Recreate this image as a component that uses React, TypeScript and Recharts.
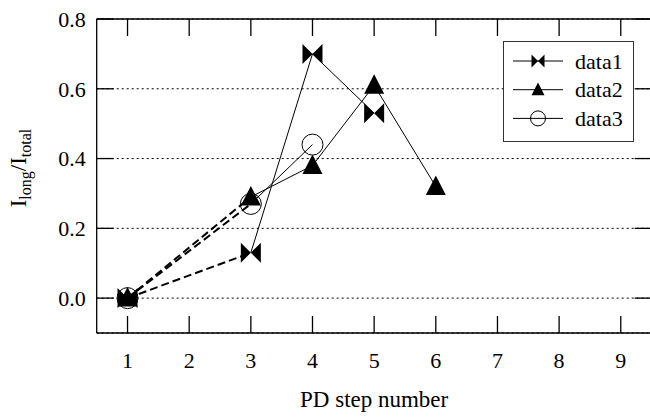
import React from "react";
import { LineChart, Line, XAxis, YAxis, CartesianGrid, Legend } from "recharts";

const FONT = '"Liberation Serif", "Times New Roman", serif';

// PD step numbers that have measurements
const STEPS = [1, 3, 4, 5, 6];
const DATA1 = [0, 0.13, 0.7, 0.53, null];
const DATA2 = [0, 0.29, 0.38, 0.61, 0.32];
const DATA3 = [0, 0.27, 0.44, null, null];
// segments up to this step are drawn dashed, after it solid
const DASH_END = 3;

const X_TICKS = [1, 2, 3, 4, 5, 6, 7, 8, 9];
const Y_TICKS = [0, 0.2, 0.4, 0.6, 0.8];

const SERIES = [
  { key: "data1", values: DATA1, shape: "bowtie" },
  { key: "data2", values: DATA2, shape: "triangle" },
  { key: "data3", values: DATA3, shape: "circle" },
];

const rows = STEPS.map((x, i) => {
  const row: Record<string, number> = { x };
  SERIES.forEach((s) => {
    const v = s.values[i];
    if (v == null) return;
    row[s.key] = v;
    if (x <= DASH_END) row[s.key + "_dash"] = v;
    if (x >= DASH_END) row[s.key + "_solid"] = v;
  });
  return row;
});

function markerPath(shape: string, cx: number, cy: number, r: number) {
  if (shape === "bowtie") {
    return `M${cx - r},${cy - r} L${cx},${cy} L${cx - r},${cy + r} Z M${cx + r},${cy - r} L${cx},${cy} L${cx + r},${cy + r} Z`;
  }
  return `M${cx},${cy - r * 1.1} L${cx + r},${cy + r * 0.85} L${cx - r},${cy + r * 0.85} Z`;
}

function Marker({ shape, cx, cy, r }: { shape: string; cx: number; cy: number; r: number }) {
  if (shape === "circle") {
    return <circle cx={cx} cy={cy} r={r} fill="none" stroke="#000" strokeWidth={1} />;
  }
  return <path d={markerPath(shape, cx, cy, r)} fill="#000" stroke="none" />;
}

const makeDot = (shape: string) => (props: any) => {
  const { cx, cy, value, index } = props;
  if (value == null || cx == null || cy == null) return <g key={index} />;
  return (
    <g key={index}>
      <Marker shape={shape} cx={cx} cy={cy} r={shape === "circle" ? 10.5 : 10} />
    </g>
  );
};

function LegendBox() {
  return (
    <svg width={131} height={101} style={{ display: "block", background: "#fff" }}>
      <rect x={0.5} y={0.5} width={130} height={100} fill="#fff" stroke="#333" />
      {SERIES.map((s, i) => {
        const cy = 20 + i * 28.7;
        return (
          <g key={s.key}>
            <line x1={10} x2={60} y1={cy} y2={cy} stroke="#000" strokeWidth={1} />
            <Marker shape={s.shape} cx={35} cy={cy} r={s.shape === "circle" ? 7.5 : 6.5} />
            <text x={72} y={cy + 7.5} fontSize={22} fontFamily={FONT} fill="#000">
              {s.key}
            </text>
          </g>
        );
      })}
    </svg>
  );
}

function YLabel(props: any) {
  const vb = props.viewBox || { x: 96, y: 19, height: 314 };
  const x = vb.x - 70;
  const y = vb.y + vb.height / 2 - 8;
  return (
    <text
      x={x}
      y={y}
      transform={`rotate(-90, ${x}, ${y})`}
      textAnchor="middle"
      fontFamily={FONT}
      fontSize={23}
      fill="#000"
    >
      I<tspan fontSize={16} dy={5}>long</tspan>
      <tspan dy={-5}>/I</tspan>
      <tspan fontSize={16} dy={5}>total</tspan>
    </text>
  );
}

function XLabel(props: any) {
  const vb = props.viewBox || { x: 97, y: 333, width: 555 };
  return (
    <text
      x={vb.x + vb.width / 2}
      y={vb.y + 74}
      textAnchor="middle"
      fontFamily={FONT}
      fontSize={23}
      fill="#000"
    >
      PD step number
    </text>
  );
}

const axisLine = { stroke: "#000", strokeWidth: 1.3 };
const tickLine = { stroke: "#000", strokeWidth: 1.3 };
const tickStyle = { fontSize: 22, fill: "#000", fontFamily: FONT };

export default function App() {
  return (
    <div
      style={{
        position: "absolute",
        left: 0,
        top: 0,
        width: 650,
        height: 417,
        overflow: "hidden",
        background: "#fff",
      }}
    >
      <LineChart
        width={670}
        height={417}
        data={rows}
        margin={{ top: 18, right: 17.4, bottom: 83, left: 95.7 }}
      >
        <CartesianGrid
          xAxisId="b"
          yAxisId="l"
          vertical={false}
          stroke="#000"
          strokeWidth={1}
          strokeDasharray="2 3"
        />
        <XAxis
          xAxisId="b"
          type="number"
          dataKey="x"
          domain={[0.5, 9.5]}
          ticks={X_TICKS}
          interval={0}
          allowDataOverflow
          height={1}
          tickSize={-17}
          tickMargin={36}
          axisLine={axisLine}
          tickLine={tickLine}
          tick={tickStyle}
          label={<XLabel />}
        />
        <XAxis
          xAxisId="t"
          orientation="top"
          type="number"
          dataKey="x"
          domain={[0.5, 9.5]}
          ticks={X_TICKS}
          interval={0}
          allowDataOverflow
          height={1}
          tickSize={-17}
          axisLine={axisLine}
          tickLine={tickLine}
          tickFormatter={() => ""}
        />
        <YAxis
          yAxisId="l"
          type="number"
          domain={[-0.1, 0.8]}
          ticks={Y_TICKS}
          interval={0}
          allowDataOverflow
          width={1}
          tickSize={-17}
          tickMargin={28}
          axisLine={axisLine}
          tickLine={tickLine}
          tick={tickStyle}
          tickFormatter={(v: number) => v.toFixed(1)}
          label={<YLabel />}
        />
        <YAxis
          yAxisId="r"
          orientation="right"
          type="number"
          domain={[-0.1, 0.8]}
          ticks={Y_TICKS}
          interval={0}
          allowDataOverflow
          width={1}
          tickSize={-17}
          axisLine={axisLine}
          tickLine={tickLine}
          tickFormatter={() => ""}
        />
        <Legend
          layout="horizontal"
          verticalAlign="middle"
          align="center"
          wrapperStyle={{ left: 503, top: 41, width: 131, height: 101 }}
          content={() => <LegendBox />}
        />
        {SERIES.map((s) => (
          <Line
            key={s.key + "_dash"}
            xAxisId="b"
            yAxisId="l"
            dataKey={s.key + "_dash"}
            stroke="#000"
            strokeWidth={2}
            strokeDasharray="8 4"
            dot={false}
            activeDot={false}
            isAnimationActive={false}
            legendType="none"
          />
        ))}
        {SERIES.map((s) => (
          <Line
            key={s.key + "_solid"}
            xAxisId="b"
            yAxisId="l"
            dataKey={s.key + "_solid"}
            stroke="#000"
            strokeWidth={1}
            dot={false}
            activeDot={false}
            isAnimationActive={false}
            legendType="none"
          />
        ))}
        {SERIES.map((s) => (
          <Line
            key={s.key}
            xAxisId="b"
            yAxisId="l"
            dataKey={s.key}
            stroke="none"
            dot={makeDot(s.shape)}
            activeDot={false}
            isAnimationActive={false}
            legendType="none"
          />
        ))}
      </LineChart>
    </div>
  );
}
